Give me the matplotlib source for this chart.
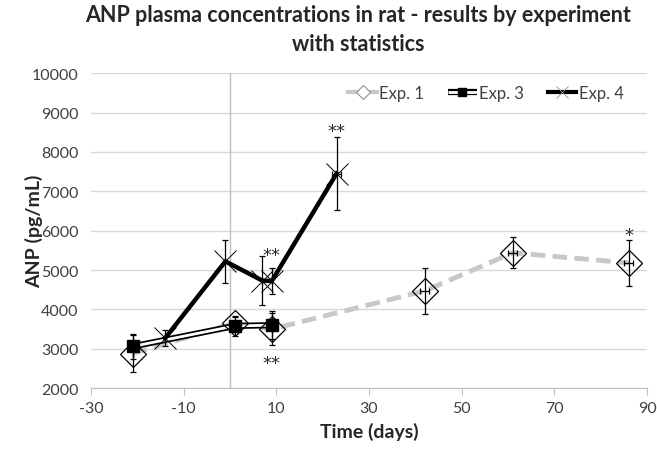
import matplotlib.pyplot as plt
import numpy as np
from matplotlib.lines import Line2D
from matplotlib.legend_handler import HandlerTuple

plt.rcParams['font.family'] = ['Lato', 'DejaVu Sans']
plt.rcParams['axes.unicode_minus'] = False

# Exp. 1
exp1_day = [-21, 1, 9, 42, 61, 86]
exp1_anp = [2880, 3650, 3500, 4470, 5440, 5180]
exp1_err = [470, 150, 400, 575, 400, 580]
exp1_xerr = [0, 0, 0, 1, 1, 1]

# Exp. 3
exp3_day = [-21, 1, 9]
exp3_anp = [3060, 3580, 3600]
exp3_err = [320, 260, 350]

# Exp. 4
exp4_day = [-14, -1, 7, 9, 23]
exp4_anp = [3270, 5220, 4730, 4720, 7450]
exp4_err = [200, 550, 620, 340, 920]
exp4_xerr = [0, 0, 0, 0, 1]

# significance marks: (day, y, text)
stars = [(23, 8660, '**'), (9, 5520, '**'), (9, 2760, '**'), (86, 6020, '*')]

fig = plt.figure(figsize=(6.57, 4.52), dpi=100)
ax = fig.add_axes([0.1385, 0.139, 0.8465, 0.697])

ax.set_xlim(-30, 90)
ax.set_ylim(2000, 10000)
ax.set_xticks(np.arange(-30, 91, 20))
ax.set_yticks(np.arange(2000, 10001, 1000))
ax.grid(axis='y', color='#d9d9d9', lw=1)
ax.set_axisbelow(True)
for s in ['top', 'right', 'left']:
    ax.spines[s].set_visible(False)
ax.spines['bottom'].set_color('#bfbfbf')
ax.tick_params(axis='x', direction='out', length=5, color='#bfbfbf', labelsize=11.5, labelcolor='#404040', pad=4)
ax.tick_params(axis='y', length=0, labelsize=11.5, labelcolor='#404040', pad=9)
ax.axvline(0, color='#bfbfbf', lw=1, zorder=1)

# Exp. 1 - gray dashed
ax.plot(exp1_day, exp1_anp, color='#c8c8c8', lw=3.5, ls=(0, (3, 1.5)), zorder=2)
ax.errorbar(exp1_day, exp1_anp, yerr=exp1_err, xerr=exp1_xerr, fmt='none', ecolor='black',
            elinewidth=0.9, capsize=2.5, capthick=0.9, zorder=3)
ax.plot(exp1_day, exp1_anp, ls='none', marker='D', ms=13, mfc='none', mec='black', mew=0.9, zorder=4)

# Exp. 3 - double line
ax.plot(exp3_day, exp3_anp, color='black', lw=4.5, zorder=3, solid_capstyle='butt')
ax.plot(exp3_day, exp3_anp, color='white', lw=2, zorder=3.1, solid_capstyle='butt')
ax.errorbar(exp3_day, exp3_anp, yerr=exp3_err, fmt='none', ecolor='black',
            elinewidth=0.9, capsize=2.5, capthick=0.9, zorder=3.2)
ax.plot(exp3_day, exp3_anp, ls='none', marker='s', ms=8, mfc='black', mec='black', zorder=5)

# Exp. 4 - thick black
ax.plot(exp4_day, exp4_anp, color='black', lw=3.2, zorder=4)
ax.errorbar(exp4_day, exp4_anp, yerr=exp4_err, xerr=exp4_xerr, fmt='none', ecolor='black',
            elinewidth=0.9, capsize=2.5, capthick=0.9, zorder=4)
ax.plot(exp4_day, exp4_anp, ls='none', marker='x', ms=16, mec='black', mew=0.7, zorder=5)

for d, y, t in stars:
    ax.text(d, y - 130, t, ha='center', va='center', fontsize=13, color='#262626',
            family='DejaVu Sans')

# legend
h1 = Line2D([], [], color='#c8c8c8', lw=3, marker='D', ms=7, mfc='white', mec='#909090', mew=0.8)
h3a = Line2D([], [], color='black', lw=4.5, solid_capstyle='butt')
h3b = Line2D([], [], color='white', lw=2, marker='s', ms=6, mfc='black', mec='black', solid_capstyle='butt')
h4 = Line2D([], [], color='black', lw=3, marker='x', ms=8, mec='#909090', mew=0.6)
leg = ax.legend([h1, (h3a, h3b), h4], ['Exp. 1', 'Exp. 3', 'Exp. 4'], loc='center right',
                bbox_to_anchor=(0.985, 0.937), ncol=3, frameon=False, fontsize=12,
                handlelength=1.7, handletextpad=0.15, columnspacing=1.45,
                handler_map={tuple: HandlerTuple(ndivide=1)})
for t in leg.get_texts():
    t.set_color('#404040')

ax.set_xlabel('Time (days)', fontsize=14, fontweight='bold', color='#262626', labelpad=5)
ax.set_ylabel('ANP (pg/mL)', fontsize=14, fontweight='bold', color='#262626', labelpad=-8)
fig.suptitle('ANP plasma concentrations in rat - results by experiment\nwith statistics',
             x=0.545, y=0.99, va='top', fontsize=15.5, fontweight='bold', color='#262626',
             linespacing=1.5)

fig.savefig('out.png', dpi=100)
